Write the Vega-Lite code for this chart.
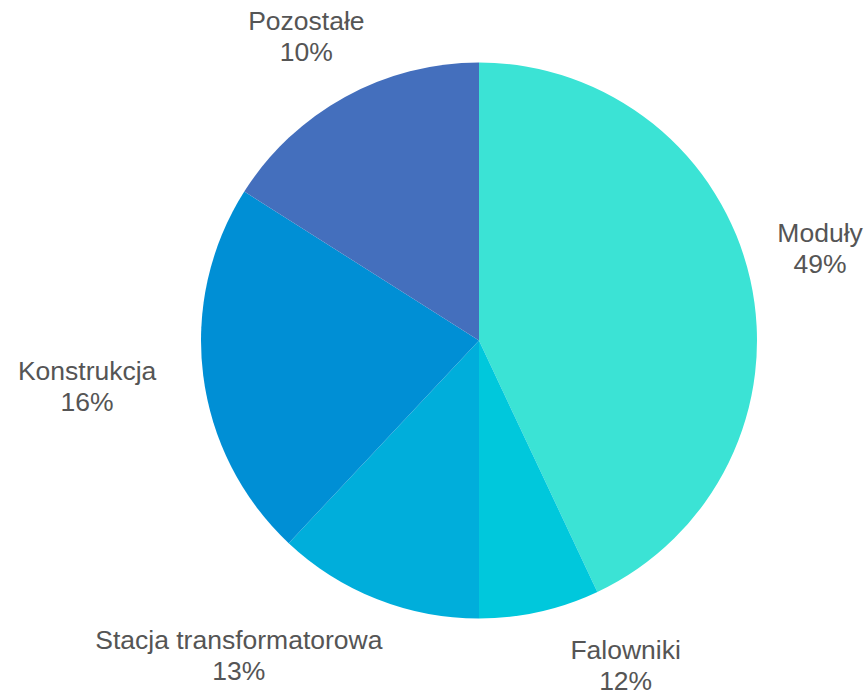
{
  "$schema": "https://vega.github.io/schema/vega-lite/v6.json",
  "width": 776,
  "height": 681,
  "autosize": {"type": "none"},
  "padding": {"left": 91, "top": 0, "right": 0, "bottom": 13},
  "background": "white",
  "view": {"stroke": null},
  "data": {
    "values": [
      {"cat": "Moduły", "label": "Moduły\n49%", "value": 43, "order": 1},
      {"cat": "Falowniki", "label": "Falowniki\n12%", "value": 7, "order": 2},
      {"cat": "Stacja transformatorowa", "label": "Stacja transformatorowa\n13%", "value": 12, "order": 3},
      {"cat": "Konstrukcja", "label": "Konstrukcja\n16%", "value": 22, "order": 4},
      {"cat": "Pozostałe", "label": "Pozostałe\n10%", "value": 16, "order": 5}
    ]
  },
  "encoding": {
    "theta": {"field": "value", "type": "quantitative", "stack": true},
    "order": {"field": "order", "type": "quantitative"},
    "detail": {"field": "cat", "type": "nominal"}
  },
  "layer": [
    {
      "mark": {"type": "arc", "outerRadius": 278},
      "encoding": {
        "color": {
          "field": "cat",
          "type": "nominal",
          "scale": {
            "domain": ["Moduły", "Falowniki", "Stacja transformatorowa", "Konstrukcja", "Pozostałe"],
            "range": ["#3be3d5", "#00c8dc", "#00aedb", "#008fd5", "#446fbd"]
          },
          "legend": null
        }
      }
    },
    {
      "mark": {"type": "text", "radius": 349.5, "dy": -30.5, "font": "Liberation Sans", "fontSize": 26.5, "fill": "#555555", "lineBreak": "\n", "lineHeight": 31, "align": "center", "baseline": "middle"},
      "encoding": {"text": {"condition": {"test": "datum.cat === 'Moduły'", "field": "label"}, "value": ""}}
    },
    {
      "mark": {"type": "text", "radius": 333, "dx": 74, "dy": -14, "font": "Liberation Sans", "fontSize": 26.5, "fill": "#555555", "lineBreak": "\n", "lineHeight": 31, "align": "center", "baseline": "middle"},
      "encoding": {"text": {"condition": {"test": "datum.cat === 'Falowniki'", "field": "label"}, "value": ""}}
    },
    {
      "mark": {"type": "text", "radius": 340, "dx": -115, "dy": -15.5, "font": "Liberation Sans", "fontSize": 26.5, "fill": "#555555", "lineBreak": "\n", "lineHeight": 31, "align": "center", "baseline": "middle"},
      "encoding": {"text": {"condition": {"test": "datum.cat === 'Stacja transformatorowa'", "field": "label"}, "value": ""}}
    },
    {
      "mark": {"type": "text", "radius": 395, "dy": -18, "font": "Liberation Sans", "fontSize": 26.5, "fill": "#555555", "lineBreak": "\n", "lineHeight": 31, "align": "center", "baseline": "middle"},
      "encoding": {"text": {"condition": {"test": "datum.cat === 'Konstrukcja'", "field": "label"}, "value": ""}}
    },
    {
      "mark": {"type": "text", "radius": 348, "dx": -5, "dy": -13.5, "font": "Liberation Sans", "fontSize": 26.5, "fill": "#555555", "lineBreak": "\n", "lineHeight": 31, "align": "center", "baseline": "middle"},
      "encoding": {"text": {"condition": {"test": "datum.cat === 'Pozostałe'", "field": "label"}, "value": ""}}
    }
  ]
}
